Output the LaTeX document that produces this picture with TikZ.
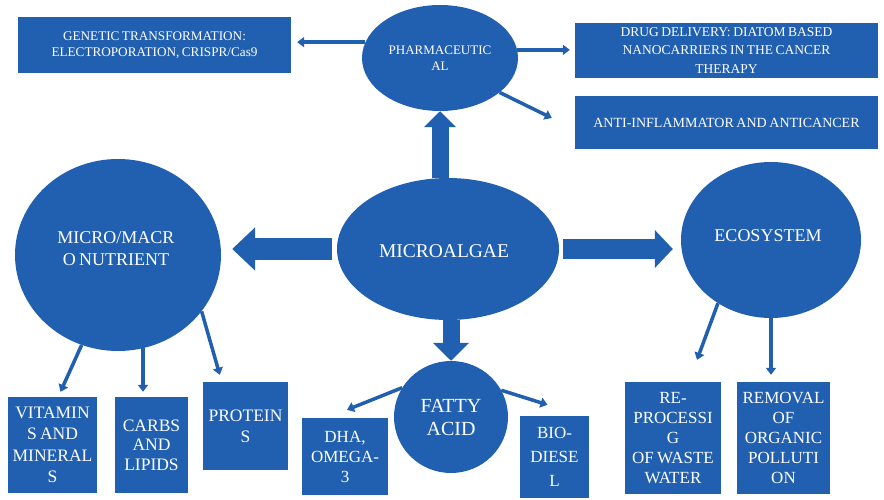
\documentclass[tikz,border=0pt]{standalone}
\usepackage{fontspec}
\setmainfont{Liberation Serif}[WordSpace=0.75]
\usetikzlibrary{shapes.geometric,arrows.meta,calc}
\definecolor{algblue}{RGB}{33,96,176}

\newcommand{\fs}[2]{\fontsize{#1}{#2}\selectfont}

\begin{document}
\begin{tikzpicture}[x=1pt,y=-1pt,
  box/.style={fill=algblue, draw=none, inner sep=0pt, text=white, align=center},
  oval/.style={ellipse, fill=algblue, draw=none, inner sep=0pt, text=white, align=center},
  lbl/.style={text=white, align=center, inner sep=0pt},
  link/.style={draw=algblue, line width=3.5pt, -{Triangle[length=7pt,width=10pt]}},
  fatarrow/.style={draw=algblue},
]
\useasboundingbox (0,0) rectangle (884,500);
\fill[white] (0,0) rectangle (884,500);

% central and hub shapes
\node[oval, minimum width=222pt, minimum height=142pt] (algae) at (448,249) {};
\node[lbl, font=\fs{19.5}{22}] (algaetxt) at (444,251) {MICROALGAE};
\node[oval, minimum width=156pt, minimum height=106pt, font=\fs{13}{16}] (pharma) at (440,58) {PHARMACEUTIC\\AL};
\node[oval, minimum width=206pt, minimum height=192pt] (nutri) at (118,255) {};
\node[lbl, font=\fs{18}{22}] (nutritxt) at (116,249) {MICRO/MACR\\O NUTRIENT};
\node[oval, minimum width=180pt, minimum height=156pt] (eco) at (771,240) {};
\node[lbl, font=\fs{18}{22}] (ecotxt) at (768,236) {ECOSYSTEM};
\node[oval, minimum width=114pt, minimum height=112pt, font=\fs{20}{23}] (fatty) at (451,417) {FATTY\\ACID};

% top boxes
\node[box, minimum width=273pt, minimum height=56pt, font=\fs{13.2}{16.5}] (gene) at (154.5,45) {GENETIC TRANSFORMATION:\\ELECTROPORATION, CRISPR/Cas9};
\node[box, minimum width=303pt, minimum height=55pt, font=\fs{13.5}{18.5}] (drug) at (726.5,50.5) {DRUG DELIVERY: DIATOM BASED\\NANOCARRIERS IN THE CANCER\\THERAPY};
\node[box, minimum width=303pt, minimum height=53pt, font=\fs{14}{16}] (anti) at (726.5,122.5) {ANTI-INFLAMMATOR AND ANTICANCER};

% bottom boxes
\node[box, minimum width=89pt, minimum height=96pt, font=\fs{17.5}{21.5}] (vit) at (52.5,445) {VITAMIN\\S AND\\MINERAL\\S};
\node[box, minimum width=73pt, minimum height=96pt, font=\fs{17.5}{19.5}] (carb) at (151.5,445) {CARBS\\AND\\LIPIDS};
\node[box, minimum width=85pt, minimum height=88pt, font=\fs{17.5}{21}] (prot) at (245.5,426) {PROTEIN\\S};
\node[box, minimum width=86pt, minimum height=77pt, font=\fs{17}{20}] (dha) at (345,456.5) {DHA,\\OMEGA-\\3};
\node[box, minimum width=69pt, minimum height=82pt, font=\fs{17}{24}] (bio) at (554.5,457) {BIO-\\DIESE\\L};
\node[box, minimum width=96pt, minimum height=112pt, font=\fs{17}{20}] (repro) at (673,438) {RE-\\PROCESSI\\G\\OF WASTE\\WATER};
\node[box, minimum width=93pt, minimum height=112pt, font=\fs{17}{20}] (remov) at (783.5,438) {REMOVAL\\OF\\ORGANIC\\POLLUTI\\ON};

% block arrows out of the central ellipse
\draw[fatarrow, line width=17pt, -{Triangle[length=16pt,width=31pt]}]
  (pharma.south |- algae.north) -- (pharma.south);
\draw[fatarrow, line width=17pt, -{Triangle[length=18pt,width=35pt]}]
  (fatty.north |- algae.south) -- (fatty.north);
\draw[fatarrow, line width=22pt, -{Triangle[length=23pt,width=42pt]}, shorten <=5pt, shorten >=11pt]
  (algae.west) -- (algae.west -| nutri.east);
\draw[fatarrow, line width=20pt, -{Triangle[length=18pt,width=37pt]}, shorten <=4pt, shorten >=8pt]
  (algae.east) -- (algae.east -| eco.west);

% pharmaceutical branches
\draw[link, shorten >=6pt] (pharma.168) -- (pharma.168 -| gene.east);
\draw[link, shorten >=5pt] (pharma.6) -- (pharma.6 -| drug.west);
\coordinate (antiend) at ($(anti.west)+(-23,-4.5)$);
\draw[link] (pharma.330) -- (antiend);

% nutrient branches
\coordinate (vitend) at ($(vit.north)+(8,-5)$);
\draw[link] (nutri.248) -- (vitend);
\draw[link, shorten >=5pt] (nutri.285) -- (nutri.285 |- carb.north);
\coordinate (protend) at ($(prot.north west)+(17,-7)$);
\draw[link] (nutri.326) -- (protend);

% fatty acid branches
\coordinate (dhaend) at ($(dha.north)+(2,-8)$);
\draw[link] (fatty.149) -- (dhaend);
\coordinate (bioend) at ($(bio.north)+(-7,-11)$);
\draw[link] (fatty.28) -- (bioend);

% ecosystem branches
\coordinate (reproend) at ($(repro.north)+(24,-22)$);
\draw[link] (eco.230) -- (reproend);
\draw[link, shorten >=7pt] (eco.south) -- (eco.south |- remov.north);
\end{tikzpicture}
\end{document}
